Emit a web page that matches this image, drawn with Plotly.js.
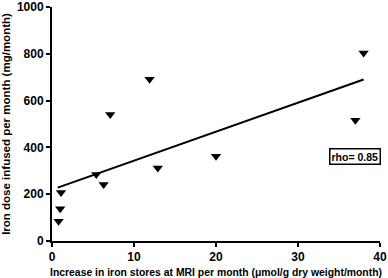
<!DOCTYPE html>
<html><head><meta charset="utf-8">
<script src="https://cdn.plot.ly/plotly-3.0.1.min.js"></script>
<style>body{margin:0;padding:0;}#c{width:388px;height:278px;}</style>
</head><body><div id="c"></div>
<script>
const ironStores = [0.8, 1.0, 1.1, 5.4, 6.3, 7.1, 11.9, 12.9, 20.0, 37.0, 38.0];
const ironDose   = [84, 138, 207, 284, 241, 541, 691, 312, 362, 516, 803];
const trendX = [0.7, 38.0];
const trendY = [228, 690];
const annotationText = "rho= 0.85";
const xTicks = [0, 10, 20, 30, 40];
const yTicks = [0, 200, 400, 600, 800, 1000];

const font = {family: "Liberation Sans, Arial, sans-serif", color: "#000"};
const data = [
  {x: ironStores, y: ironDose, mode: "markers", type: "scatter",
   marker: {symbol: "triangle-down", size: 9, color: "#000"}, hoverinfo: "none"},
  {x: trendX, y: trendY, mode: "lines", type: "scatter",
   line: {color: "#000", width: 2}, hoverinfo: "none"}
];
const layout = {
  width: 388, height: 278,
  margin: {l: 52, r: 8, t: 7, b: 37},
  paper_bgcolor: "#fff", plot_bgcolor: "#fff",
  showlegend: false,
  font: font,
  xaxis: {range: [0, 40], tickvals: xTicks, ticktext: xTicks.map(String),
    showgrid: false, zeroline: false, showline: true, linecolor: "#000", linewidth: 2,
    ticks: "outside", ticklen: 4, tickwidth: 2, tickcolor: "#000",
    tickfont: {family: font.family, size: 12, weight: "bold"},
    title: {text: "<b>Increase in iron stores at MRI per month (μmol/g dry weight/month)</b>",
      font: {family: font.family, size: 10.4}, standoff: 7}},
  yaxis: {range: [0, 1000], tickvals: yTicks, ticktext: yTicks.map(String),
    showgrid: false, zeroline: false, showline: true, linecolor: "#000", linewidth: 2,
    ticks: "outside", ticklen: 4, tickwidth: 2, tickcolor: "#000",
    tickfont: {family: font.family, size: 12, weight: "bold"},
    title: {text: "<b>Iron dose infused per month (mg/month)</b>",
      font: {family: font.family, size: 11.5}, standoff: 4}},
  annotations: [{x: 37, y: 360, xref: "x", yref: "y", text: "<b>" + annotationText + "</b>",
    showarrow: false, font: {family: font.family, size: 10.5}, bordercolor: "#000",
    borderwidth: 1.5, borderpad: 1, bgcolor: "#fff"}]
};
Plotly.newPlot("c", data, layout, {staticPlot: true, displayModeBar: false});
</script></body></html>
